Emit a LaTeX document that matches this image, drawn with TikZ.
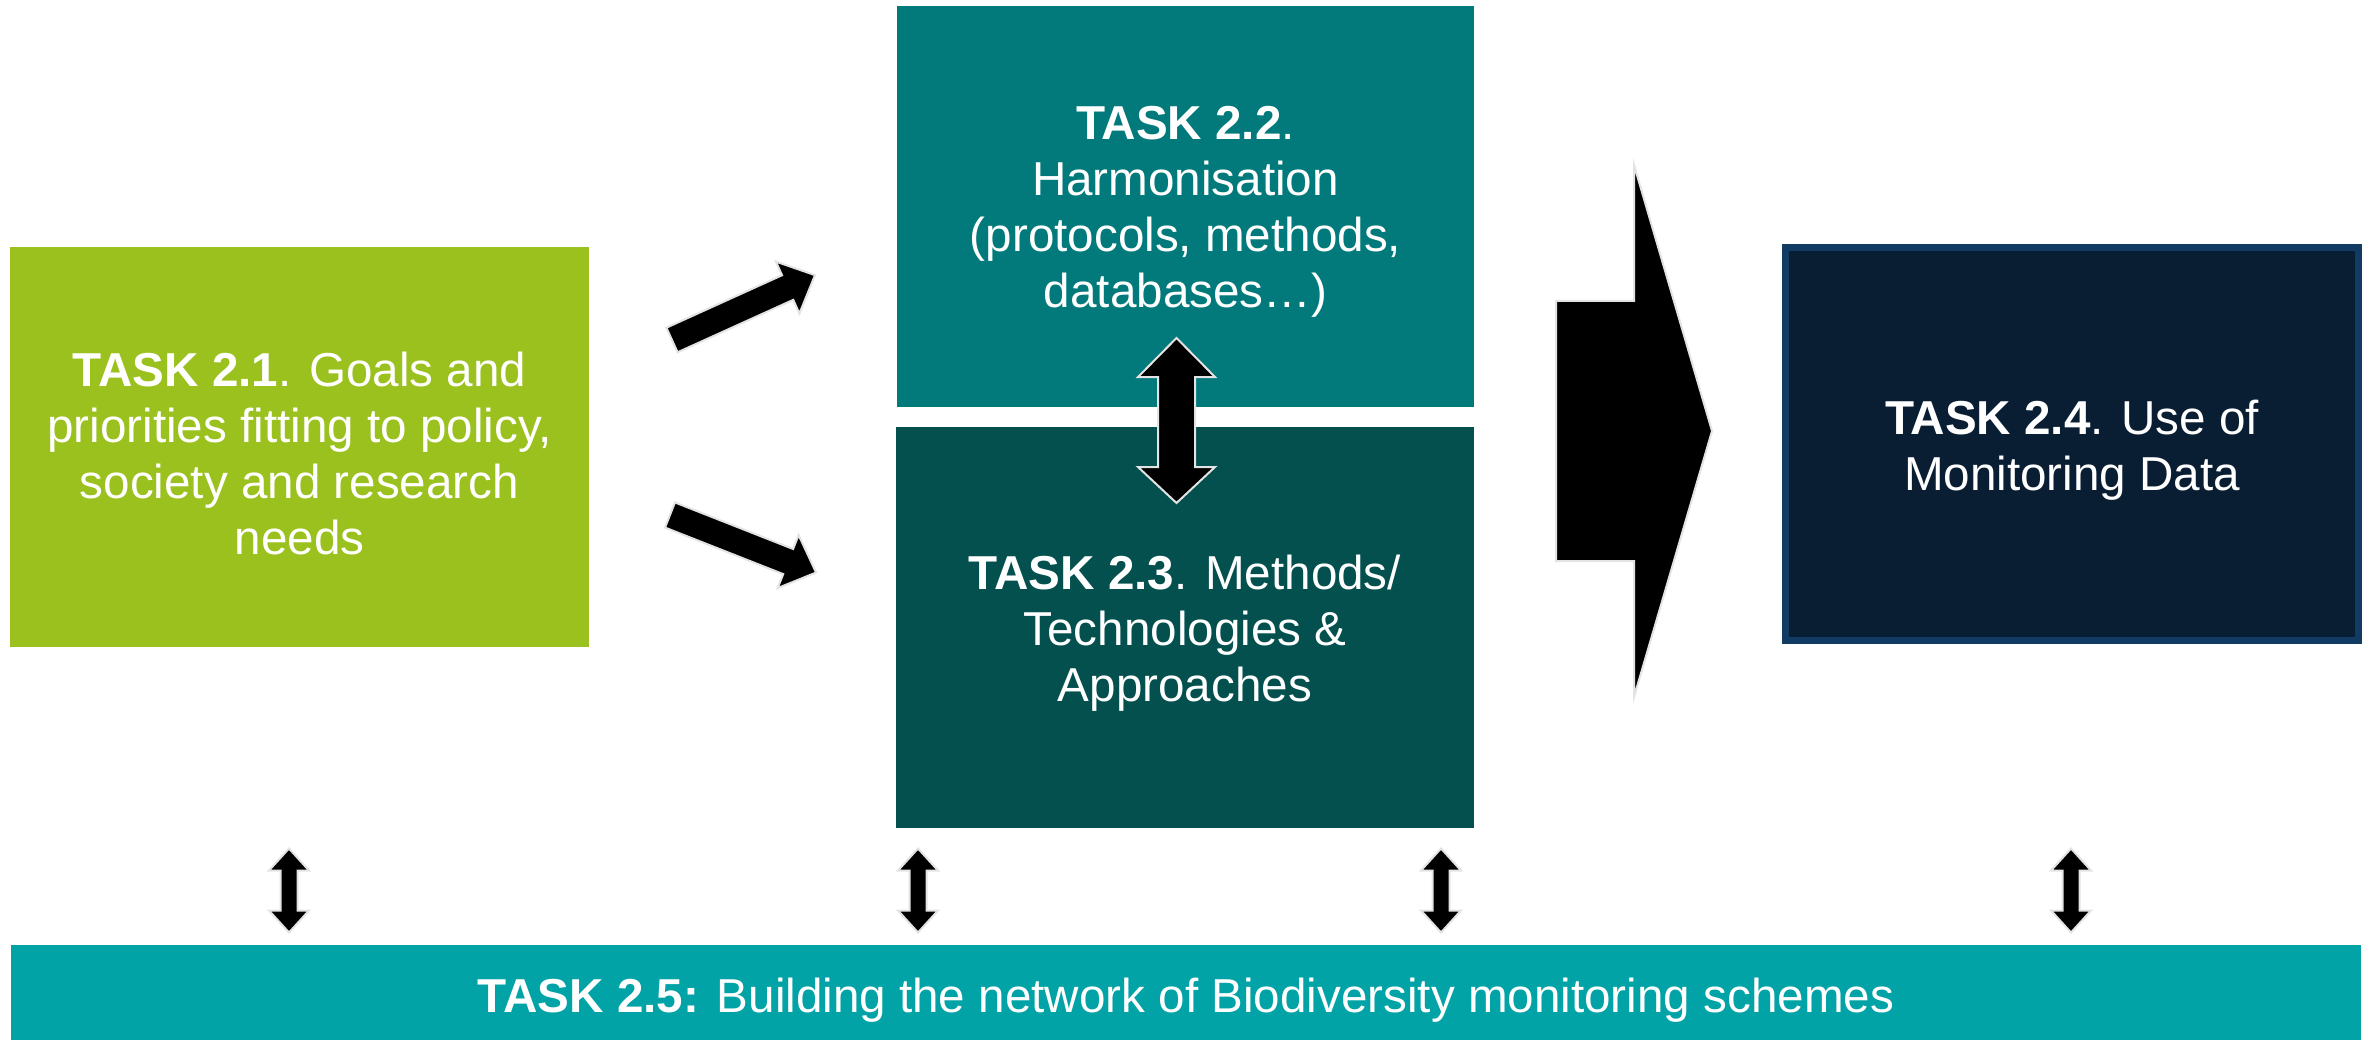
\documentclass[tikz,border=0pt]{standalone}
\usepackage{fontspec}
\setmainfont{Liberation Sans}
\definecolor{taskgreen}{HTML}{9BC11F}
\definecolor{taskteal}{HTML}{027A7B}
\definecolor{taskpine}{HTML}{03504F}
\definecolor{tasknavy}{HTML}{0A1E33}
\definecolor{navyedge}{HTML}{113B62}
\definecolor{taskcyan}{HTML}{02A3A6}
\definecolor{arrowedge}{HTML}{E3E3E3}

\begin{document}
\begin{tikzpicture}[x=1pt,y=-1pt,
  box/.style={rectangle, inner sep=0pt, outer sep=0pt},
  boxtext/.style={inner sep=0pt, align=center, text=white,
    font=\fontsize{47.6}{56}\selectfont},
  blockarrow/.style={fill=black, draw=arrowedge, line width=2pt, line join=miter},
  % thin slanted block arrow, tail at the origin, pointing along +x
  pics/slantarrow/.style={code={
    \draw[blockarrow] (0,-13.5) -- (127,-13.5) -- (127,-28.5) -- (157,0)
      -- (127,28.5) -- (127,13.5) -- (0,13.5) -- cycle;}},
  % small vertical two-headed block arrow, centred on the origin
  pics/smallupdown/.style={code={
    \draw[blockarrow] (0,-42) -- (20,-20) -- (8.5,-20) -- (8.5,20) -- (20,20)
      -- (0,42) -- (-20,20) -- (-8.5,20) -- (-8.5,-20) -- (-20,-20) -- cycle;}}]

\useasboundingbox (0,0) rectangle (2376,1040);

% task boxes
\node[box, fill=taskgreen, minimum width=579pt, minimum height=400pt] (t21) at (299.5,447) {};
\node[box, fill=taskteal, minimum width=577pt, minimum height=401pt] (t22) at (1185.5,206.5) {};
\node[box, fill=taskpine, minimum width=578pt, minimum height=401pt] (t23) at (1185,627.5) {};
\node[box, fill=tasknavy, draw=navyedge, line width=7pt,
  minimum width=573pt, minimum height=393pt] (t24) at (2072,444) {};
\node[box, fill=taskcyan, minimum width=2350pt, minimum height=95pt] (t25) at (1186,992.5) {};

% box texts
\node[boxtext] (l21) at ([yshift=-6pt]t21.center)
  {\textbf{TASK 2.1}. Goals and\\priorities fitting to policy,\\society and research\\needs};
\node[boxtext] (l22) at ([yshift=-5pt]t22.center)
  {\textbf{TASK 2.2}.\\Harmonisation\\(protocols, methods,\\databases…)};
\node[boxtext] (l23) at ([yshift=-6pt]t23.center)
  {\textbf{TASK 2.3}. Methods/\\Technologies \&\\Approaches};
\node[boxtext] (l24) at ([yshift=-6pt]t24.center)
  {\textbf{TASK 2.4}. Use of\\Monitoring Data};
\node[boxtext] (l25) at ([yshift=-8pt]t25.center)
  {\textbf{TASK 2.5:} Building the network of Biodiversity monitoring schemes};

% arrows from task 2.1 to tasks 2.2 and 2.3
\pic[rotate=24.4] at (672,340) {slantarrow};
\pic[rotate=-21.5] at (670,515) {slantarrow};

% two-headed arrow linking tasks 2.2 and 2.3
\draw[blockarrow] (1176.5,338) -- (1215,377) -- (1195,377) -- (1195,467) -- (1215,467)
  -- (1176.5,503) -- (1138,467) -- (1158,467) -- (1158,377) -- (1138,377) -- cycle;

% large arrow towards task 2.4
\draw[blockarrow] (1556,301) -- (1634,301) -- (1634,165) -- (1712,431)
  -- (1634,697) -- (1634,561) -- (1556,561) -- cycle;

% links to task 2.5
\pic at (289,890.5) {smallupdown};
\pic at (918,890.5) {smallupdown};
\pic at (1441,890.5) {smallupdown};
\pic at (2071,890.5) {smallupdown};

\end{tikzpicture}
\end{document}
